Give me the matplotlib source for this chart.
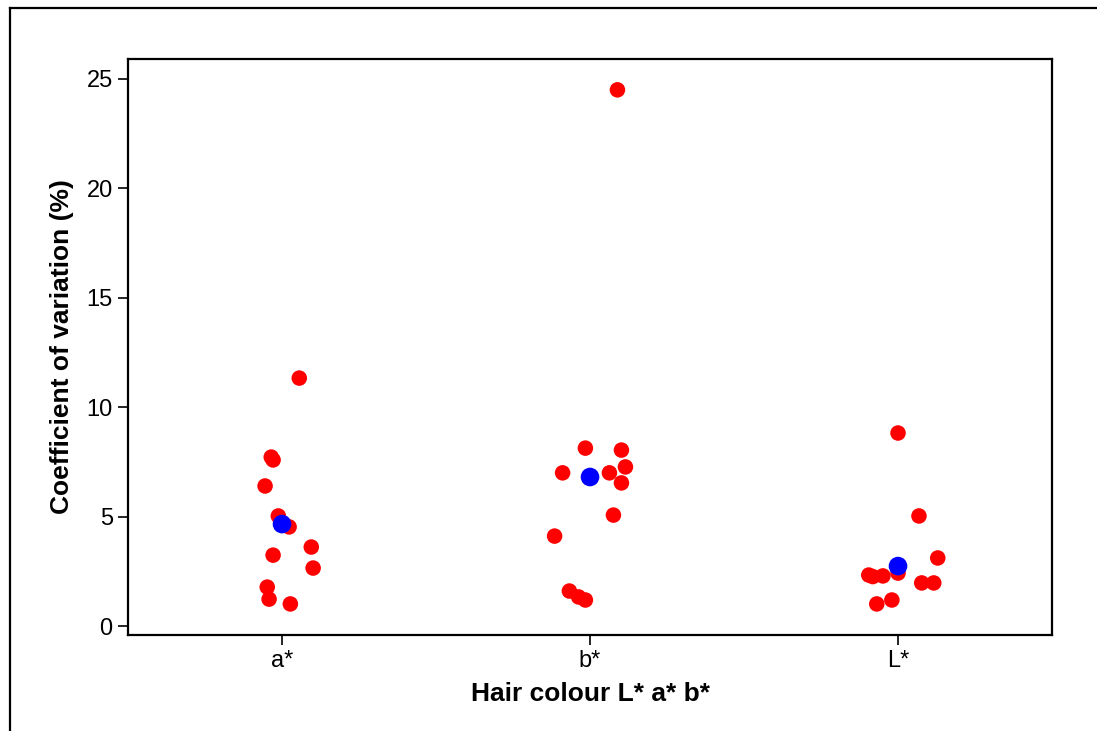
import numpy as np
import matplotlib.pyplot as plt
from matplotlib.lines import Line2D

plt.rcParams['font.family'] = ['Liberation Sans', 'DejaVu Sans']

categories = ["a*", "b*", "L*"]

# coefficient of variation (%) for each sample
cv_a = [11.33, 7.72, 7.59, 6.40, 5.03, 4.53, 3.24, 3.61, 2.65, 1.78, 1.23, 1.01]
cv_b = [24.50, 8.13, 8.04, 7.27, 7.00, 7.00, 6.54, 5.07, 4.11, 1.60, 1.33, 1.19]
cv_L = [8.82, 5.03, 3.11, 2.33, 2.26, 2.29, 2.42, 1.97, 1.97, 1.01, 1.19]

# horizontal jitter of each dot (category units), as seen in the picture
jit_a = [0.056, -0.035, -0.029, -0.055, -0.012, 0.023, -0.029, 0.095, 0.101, -0.048, -0.042, 0.027]
jit_b = [0.089, -0.015, 0.102, 0.115, -0.089, 0.063, 0.102, 0.076, -0.115, -0.067, -0.037, -0.015]
jit_L = [0.0, 0.068, 0.129, -0.095, -0.082, -0.049, 0.0, 0.077, 0.116, -0.069, -0.020]

# group means (blue dots)
means = [4.66, 6.81, 2.74]

fig = plt.figure(figsize=(10.97, 7.31), dpi=100)
ax = fig.add_axes([0.1167, 0.1313, 0.8423, 0.788])

groups = [cv_a, cv_b, cv_L]
jits = [jit_a, jit_b, jit_L]
for i, (vals, jit) in enumerate(zip(groups, jits)):
    xs = np.array(jit) + i + 1
    ax.scatter(xs, vals, s=125, color='#ff0000', edgecolors='none', zorder=2)

ax.scatter([1, 2, 3], means, s=180, color='#0000ff', edgecolors='none', zorder=3)

ax.set_xlim(0.5, 3.5)
ax.set_ylim(-0.41, 25.91)
ax.set_xticks([1, 2, 3])
ax.set_xticklabels(categories)
ax.set_yticks([0, 5, 10, 15, 20, 25])

for sp in ax.spines.values():
    sp.set_linewidth(1.6)
ax.tick_params(axis='both', length=7, width=1.2, labelsize=17, pad=4, direction='out')

ax.set_xlabel("Hair colour L* a* b*", fontsize=19, fontweight='bold', labelpad=7)
ax.set_ylabel("Coefficient of variation (%)", fontsize=19, fontweight='bold', labelpad=9)

# outer frame (only top and left edges show in the picture)
fig.add_artist(Line2D([10 / 1097, 10 / 1097], [0, 1 - 8 / 731], transform=fig.transFigure,
                      color='black', linewidth=1.6))
fig.add_artist(Line2D([10 / 1097, 1], [1 - 8 / 731, 1 - 8 / 731], transform=fig.transFigure,
                      color='black', linewidth=1.6))

fig.savefig("out.png", dpi=100)
